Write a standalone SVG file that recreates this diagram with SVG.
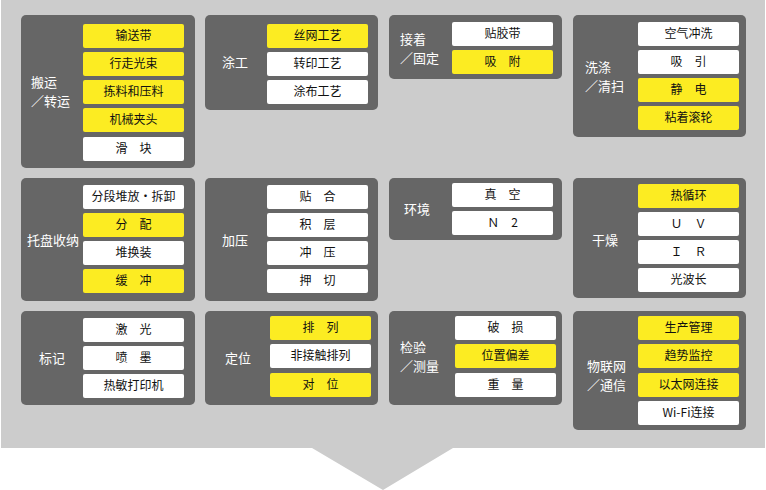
<svg xmlns="http://www.w3.org/2000/svg" width="766" height="490" viewBox="0 0 766 490">
<style>
.p{fill:#666666}
.w{fill:#ffffff}
.y{fill:#fcec22}
.t{font-family:"Noto Sans CJK SC","Liberation Sans",sans-serif;font-size:12px;fill:#111;text-anchor:middle}
.l{font-family:"Noto Sans CJK SC","Liberation Sans",sans-serif;font-size:13px;fill:#fff}
</style>
<rect width="766" height="490" fill="#fff"/>
<path d="M1 0H765V448H453L383 490L312 448H1Z" fill="#cccccc"/>
<g id="n1"><rect class="p" x="21" y="15" width="174" height="153" rx="5"/>
<text class="l" x="31" y="87">搬运</text><text class="l" x="31" y="106">／转运</text>
<rect class="y" x="83" y="24" width="101" height="24" rx="2"/><text class="t" x="133.5" y="40">输送带</text>
<rect class="y" x="83" y="52" width="101" height="24" rx="2"/><text class="t" x="133.5" y="68">行走光束</text>
<rect class="y" x="83" y="80" width="101" height="24" rx="2"/><text class="t" x="133.5" y="96">拣料和压料</text>
<rect class="y" x="83" y="108" width="101" height="24" rx="2"/><text class="t" x="133.5" y="124">机械夹头</text>
<rect class="w" x="83" y="137" width="101" height="24" rx="2"/><text class="t" x="133.5" y="153">滑　块</text></g>
<g id="n2"><rect class="p" x="205" y="15" width="173" height="95" rx="5"/>
<text class="l" x="222" y="67">涂工</text>
<rect class="y" x="267" y="24" width="101" height="24" rx="2"/><text class="t" x="317.5" y="40">丝网工艺</text>
<rect class="w" x="267" y="52" width="101" height="24" rx="2"/><text class="t" x="317.5" y="68">转印工艺</text>
<rect class="w" x="267" y="80" width="101" height="24" rx="2"/><text class="t" x="317.5" y="96">涂布工艺</text></g>
<g id="n3"><rect class="p" x="389" y="15" width="173" height="64" rx="5"/>
<text class="l" x="400" y="44">接着</text><text class="l" x="400" y="63">／固定</text>
<rect class="w" x="452" y="22" width="101" height="24" rx="2"/><text class="t" x="502.5" y="38">贴胶带</text>
<rect class="y" x="452" y="50" width="101" height="24" rx="2"/><text class="t" x="502.5" y="66">吸　附</text></g>
<g id="n4"><rect class="p" x="573" y="15" width="173" height="122" rx="5"/>
<text class="l" x="585" y="72">洗涤</text><text class="l" x="585" y="91">／清扫</text>
<rect class="w" x="638" y="22" width="101" height="24" rx="2"/><text class="t" x="688.5" y="38">空气冲洗</text>
<rect class="w" x="638" y="50" width="101" height="24" rx="2"/><text class="t" x="688.5" y="66">吸　引</text>
<rect class="y" x="638" y="78" width="101" height="24" rx="2"/><text class="t" x="688.5" y="94">静　电</text>
<rect class="y" x="638" y="106" width="101" height="24" rx="2"/><text class="t" x="688.5" y="122">粘着滚轮</text></g>
<g id="n5"><rect class="p" x="21" y="178" width="174" height="123" rx="5"/>
<text class="l" x="27" y="245">托盘收纳</text>
<rect class="w" x="83" y="185" width="101" height="24" rx="2"/><text class="t" x="133.5" y="201">分段堆放•拆卸</text>
<rect class="y" x="83" y="213" width="101" height="24" rx="2"/><text class="t" x="133.5" y="229">分　配</text>
<rect class="w" x="83" y="241" width="101" height="24" rx="2"/><text class="t" x="133.5" y="257">堆换装</text>
<rect class="y" x="83" y="269" width="101" height="24" rx="2"/><text class="t" x="133.5" y="285">缓　冲</text></g>
<g id="n6"><rect class="p" x="205" y="178" width="173" height="123" rx="5"/>
<text class="l" x="222" y="245">加压</text>
<rect class="w" x="267" y="185" width="101" height="24" rx="2"/><text class="t" x="317.5" y="201">贴　合</text>
<rect class="w" x="267" y="213" width="101" height="24" rx="2"/><text class="t" x="317.5" y="229">积　层</text>
<rect class="w" x="267" y="241" width="101" height="24" rx="2"/><text class="t" x="317.5" y="257">冲　压</text>
<rect class="w" x="267" y="269" width="101" height="24" rx="2"/><text class="t" x="317.5" y="285">押　切</text></g>
<g id="n7"><rect class="p" x="389" y="178" width="173" height="62" rx="5"/>
<text class="l" x="404" y="214">环境</text>
<rect class="w" x="452" y="183" width="101" height="24" rx="2"/><text class="t" x="502.5" y="199">真　空</text>
<rect class="w" x="452" y="211" width="101" height="24" rx="2"/><text class="t" x="502.5" y="227">Ｎ　2</text></g>
<g id="n8"><rect class="p" x="573" y="178" width="173" height="120" rx="5"/>
<text class="l" x="592" y="245">干燥</text>
<rect class="y" x="638" y="184" width="101" height="24" rx="2"/><text class="t" x="688.5" y="200">热循环</text>
<rect class="w" x="638" y="212" width="101" height="24" rx="2"/><text class="t" x="688.5" y="228">Ｕ　Ｖ</text>
<rect class="w" x="638" y="240" width="101" height="24" rx="2"/><text class="t" x="688.5" y="256">Ｉ　Ｒ</text>
<rect class="w" x="638" y="268" width="101" height="24" rx="2"/><text class="t" x="688.5" y="284">光波长</text></g>
<g id="n9"><rect class="p" x="21" y="311" width="174" height="94" rx="5"/>
<text class="l" x="39" y="363">标记</text>
<rect class="w" x="83" y="318" width="101" height="24" rx="2"/><text class="t" x="133.5" y="334">激　光</text>
<rect class="w" x="83" y="346" width="101" height="24" rx="2"/><text class="t" x="133.5" y="362">喷　墨</text>
<rect class="w" x="83" y="374" width="101" height="24" rx="2"/><text class="t" x="133.5" y="390">热敏打印机</text></g>
<g id="n10"><rect class="p" x="205" y="311" width="173" height="94" rx="5"/>
<text class="l" x="225" y="363">定位</text>
<rect class="y" x="270" y="316" width="101" height="24" rx="2"/><text class="t" x="320.5" y="332">排　列</text>
<rect class="w" x="270" y="344" width="101" height="24" rx="2"/><text class="t" x="320.5" y="360">非接触排列</text>
<rect class="y" x="270" y="373" width="101" height="24" rx="2"/><text class="t" x="320.5" y="389">对　位</text></g>
<g id="n11"><rect class="p" x="389" y="311" width="173" height="94" rx="5"/>
<text class="l" x="400" y="352">检验</text><text class="l" x="400" y="371">／测量</text>
<rect class="w" x="455" y="316" width="101" height="24" rx="2"/><text class="t" x="505.5" y="332">破　损</text>
<rect class="y" x="455" y="344" width="101" height="24" rx="2"/><text class="t" x="505.5" y="360">位置偏差</text>
<rect class="w" x="455" y="373" width="101" height="24" rx="2"/><text class="t" x="505.5" y="389">重　量</text></g>
<g id="n12"><rect class="p" x="573" y="311" width="173" height="119" rx="5"/>
<text class="l" x="587" y="371">物联网</text><text class="l" x="587" y="390">／通信</text>
<rect class="y" x="638" y="316" width="101" height="24" rx="2"/><text class="t" x="688.5" y="332">生产管理</text>
<rect class="y" x="638" y="344" width="101" height="24" rx="2"/><text class="t" x="688.5" y="360">趋势监控</text>
<rect class="y" x="638" y="373" width="101" height="24" rx="2"/><text class="t" x="688.5" y="389">以太网连接</text>
<rect class="w" x="638" y="401" width="101" height="24" rx="2"/><text class="t" x="688.5" y="417">Wi-Fi连接</text></g>
<g id="connectors"/>
</svg>
